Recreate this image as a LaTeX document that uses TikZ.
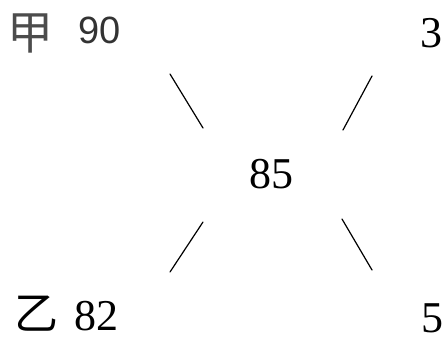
\documentclass[tikz,border=0pt]{standalone}
\usepackage{fontspec}
\setmainfont{Liberation Serif}
\newfontfamily\cjk{Noto Sans CJK SC}
\newfontfamily\sansnum{Liberation Sans}
\usetikzlibrary{positioning}

\begin{document}
\begin{tikzpicture}[x=0.5pt,y=-0.5pt,font=\fontsize{22}{24}\selectfont]
\tikzstyle{num}=[inner sep=0pt,anchor=center]
\tikzstyle{ch}=[inner sep=0pt,anchor=center,font=\cjk\fontsize{22}{24}\selectfont]
\tikzstyle{bar}=[line width=0.6pt,line cap=round]
\useasboundingbox (0,0) rectangle (444,339);
% left column: names and scores
\node[ch,text=black!70,font=\cjk\fontsize{23}{25}\selectfont] (jia) at (30,33) {甲};
\node[num,text=black!80,font=\sansnum\fontsize{19}{21}\selectfont] (a) at (100,30) {90};
\node[ch] (yi) at (36,314) {乙};
\node[num] (b) at (96,316) {82};
% middle and right column
\node[num] (avg) at (271,174) {85};
\node[num] (da) at (431,33) {3};
\node[num] (db) at (432,318) {5};
% the four strokes of the cross
\foreach \nm/\xa/\ya/\xb/\yb in {p/170/74/203/128, q/372/76/343/130, r/203/222/170/272, s/342/219/372/270} {
  \coordinate (\nm1) at (\xa,\ya);
  \coordinate (\nm2) at (\xb,\yb);
  \draw[bar] (\nm1) -- (\nm2);
}
\end{tikzpicture}
\end{document}
